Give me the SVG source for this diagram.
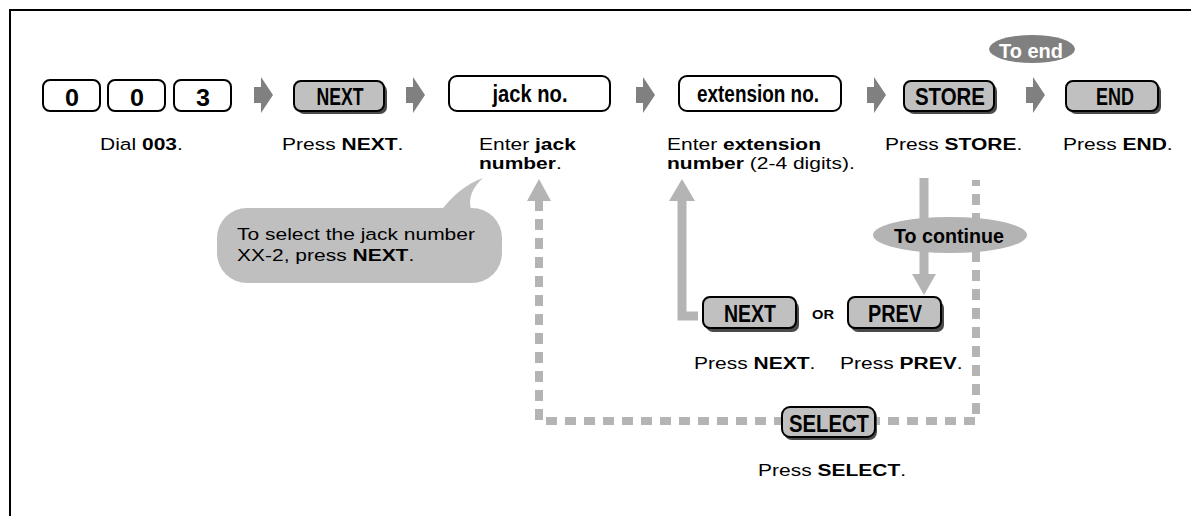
<svg xmlns="http://www.w3.org/2000/svg" width="1191" height="516" viewBox="0 0 1191 516">
<style>
.t{font-family:"Liberation Sans",Arial,sans-serif;font-size:17px;fill:#000}
.b{font-weight:bold}
.k{font-family:"Liberation Sans",Arial,sans-serif;font-weight:bold;font-size:23px;fill:#000;text-anchor:middle}
.wk{fill:#fff;stroke:#000;stroke-width:2}
.gk{fill:#c0c0c0;stroke:#000;stroke-width:2}
.sh{fill:#4a4a4a}
.fa{fill:#808080}
.dash{fill:none;stroke:#b4b4b4;stroke-width:8;stroke-dasharray:11 8}
.solid{fill:none;stroke:#b4b4b4;stroke-width:9}
.head{fill:#b4b4b4}
</style>
<defs>
<path id="fwd" d="M0,-8 H7 V-18 L19,0 L7,18 V8 H0 Z"/>
</defs>
<rect width="1191" height="516" fill="#fff"/>
<path d="M10,516 V10 H1191" fill="none" stroke="#000" stroke-width="2"/>

<g id="connectors">
<use href="#fwd" class="fa" x="254" y="95"/>
<use href="#fwd" class="fa" x="406" y="95"/>
<use href="#fwd" class="fa" x="636" y="95"/>
<use href="#fwd" class="fa" x="867" y="95"/>
<use href="#fwd" class="fa" x="1026" y="95"/>
<path class="dash" d="M539,200 V421 H976 V180"/>
<polygon class="head" points="527,201 551,201 539,179"/>
<path class="solid" d="M682,200 V316 H698"/>
<polygon class="head" points="669,201 695,201 682,179"/>
<path class="solid" d="M924,178 V276"/>
<polygon class="head" points="912,274 936,274 924,295"/>
</g>

<g id="key-003">
<rect class="wk" x="43" y="80" width="57" height="31" rx="7"/>
<rect class="wk" x="108" y="80" width="57" height="31" rx="7"/>
<rect class="wk" x="174" y="80" width="57" height="31" rx="7"/>
<text class="k" x="72" y="106" textLength="14" lengthAdjust="spacingAndGlyphs">0</text>
<text class="k" x="137" y="106" textLength="14" lengthAdjust="spacingAndGlyphs">0</text>
<text class="k" x="203" y="106" textLength="14" lengthAdjust="spacingAndGlyphs">3</text>
<text class="t" transform="translate(100,150) scale(1.235,1)">Dial <tspan class="b">003</tspan>.</text>
</g>

<g id="key-next">
<rect class="sh" x="297" y="84" width="90" height="30" rx="7"/>
<rect class="gk" x="294" y="81" width="90" height="30" rx="7"/>
<text class="k" x="340" y="105" textLength="47" lengthAdjust="spacingAndGlyphs">NEXT</text>
<text class="t" transform="translate(282,150) scale(1.235,1)">Press <tspan class="b">NEXT</tspan>.</text>
</g>

<g id="key-jack">
<rect class="wk" x="449" y="76" width="161" height="35" rx="8"/>
<text class="k" x="530" y="102" textLength="75" lengthAdjust="spacingAndGlyphs">jack no.</text>
<text class="t" transform="translate(479,150) scale(1.235,1)">Enter <tspan class="b">jack</tspan></text>
<text class="t" transform="translate(479,169) scale(1.235,1)"><tspan class="b">number</tspan>.</text>
</g>

<g id="key-extension">
<rect class="wk" x="679" y="76" width="162" height="35" rx="8"/>
<text class="k" x="758" y="102" textLength="122" lengthAdjust="spacingAndGlyphs">extension no.</text>
<text class="t" transform="translate(667,150) scale(1.235,1)">Enter <tspan class="b">extension</tspan></text>
<text class="t" transform="translate(667,169) scale(1.235,1)"><tspan class="b">number</tspan> (2-4 digits).</text>
</g>

<g id="key-store">
<rect class="sh" x="907" y="84" width="90" height="30" rx="7"/>
<rect class="gk" x="904" y="81" width="90" height="30" rx="7"/>
<text class="k" x="950" y="105" textLength="70" lengthAdjust="spacingAndGlyphs">STORE</text>
<text class="t" transform="translate(885,150) scale(1.235,1)">Press <tspan class="b">STORE</tspan>.</text>
</g>

<g id="key-end">
<rect class="sh" x="1069" y="84" width="92" height="30" rx="7"/>
<rect class="gk" x="1066" y="81" width="92" height="30" rx="7"/>
<text class="k" x="1115" y="105" textLength="38" lengthAdjust="spacingAndGlyphs">END</text>
<text class="t" transform="translate(1063,150) scale(1.235,1)">Press <tspan class="b">END</tspan>.</text>
</g>

<g id="label-to-end">
<ellipse cx="1032" cy="49" rx="43" ry="14" fill="#808080"/>
<text x="1031" y="58" font-family="Liberation Sans, Arial, sans-serif" font-weight="bold" font-size="21" fill="#fff" text-anchor="middle" textLength="64" lengthAdjust="spacingAndGlyphs">To end</text>
</g>

<g id="bubble">
<rect x="217" y="208" width="285" height="75" rx="30" fill="#bfbfbf"/>
<path d="M440,212 C452,196 466,184 483,178 C472,188 467,199 472,212 Z" fill="#bfbfbf"/>
<text class="t" transform="translate(237,240) scale(1.235,1)">To select the jack number</text>
<text class="t" transform="translate(237,261) scale(1.235,1)">XX-2, press <tspan class="b">NEXT</tspan>.</text>
</g>

<g id="label-to-continue">
<ellipse cx="950" cy="235" rx="77" ry="18" fill="#b4b4b4"/>
<text x="949" y="243" font-family="Liberation Sans, Arial, sans-serif" font-weight="bold" font-size="20" fill="#000" text-anchor="middle" textLength="110" lengthAdjust="spacingAndGlyphs">To continue</text>
</g>

<g id="key-next-2">
<rect class="sh" x="706" y="301" width="93" height="31" rx="7"/>
<rect class="gk" x="703" y="297" width="93" height="31" rx="7"/>
<text class="k" x="750" y="322" textLength="52" lengthAdjust="spacingAndGlyphs">NEXT</text>
<text class="t" transform="translate(694,369) scale(1.235,1)">Press <tspan class="b">NEXT</tspan>.</text>
</g>

<g id="or-label">
<text x="823" y="319" font-family="Liberation Sans, Arial, sans-serif" font-weight="bold" font-size="13" fill="#000" text-anchor="middle" textLength="22" lengthAdjust="spacingAndGlyphs">OR</text>
</g>

<g id="key-prev">
<rect class="sh" x="851" y="301" width="93" height="31" rx="7"/>
<rect class="gk" x="848" y="297" width="93" height="31" rx="7"/>
<text class="k" x="895" y="322" textLength="54" lengthAdjust="spacingAndGlyphs">PREV</text>
<text class="t" transform="translate(840,369) scale(1.235,1)">Press <tspan class="b">PREV</tspan>.</text>
</g>

<g id="key-select">
<rect class="sh" x="784" y="409" width="93" height="31" rx="8"/>
<rect class="gk" x="782" y="407" width="93" height="30" rx="8"/>
<text class="k" x="829" y="432" textLength="80" lengthAdjust="spacingAndGlyphs">SELECT</text>
<text class="t" transform="translate(758,476) scale(1.235,1)">Press <tspan class="b">SELECT</tspan>.</text>
</g>
</svg>
